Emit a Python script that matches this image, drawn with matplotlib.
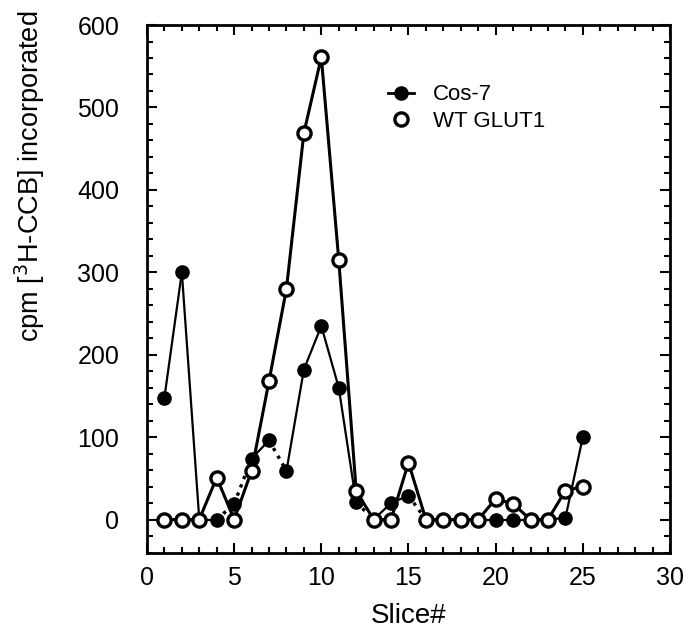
import matplotlib
matplotlib.use("Agg")
import matplotlib.pyplot as plt
from matplotlib.lines import Line2D
from matplotlib.ticker import MultipleLocator

plt.rcParams['font.family'] = ['Liberation Sans', 'DejaVu Sans']

slices = list(range(1, 26))
cos7 = [148, 300, 0, 0, 19, 74, 96, 59, 182, 235, 160, 21, 0, 20, 29,
        0, 0, 0, 0, 0, 0, 0, 0, 2, 100]
wt_glut1 = [0, 0, 0, 51, 0, 59, 168, 280, 469, 561, 315, 35, 0, 0, 69,
            0, 0, 0, 0, 25, 19, 0, 0, 35, 40]

# segments of the Cos-7 trace that appear dotted in the original (start slice)
dotted_starts = {4, 5, 7, 12, 15}

fig = plt.figure(figsize=(6.91, 6.35), dpi=100)
ax = fig.add_axes([0.2127, 0.1299, 0.9696 - 0.2127, 0.9606 - 0.1299])

# Cos-7 line segments
for i in range(len(slices) - 1):
    ls = ':' if slices[i] in dotted_starts else '-'
    lw = 2.4 if ls == ':' else 1.6
    ax.plot(slices[i:i + 2], cos7[i:i + 2], color='black', lw=lw, ls=ls,
            zorder=2)
ax.plot(slices, cos7, lw=0, marker='o', markersize=9.5,
        markerfacecolor='black', markeredgecolor='black', zorder=2.5)
ax.plot(slices, wt_glut1, color='black', lw=2.2, marker='o', markersize=9.5,
        markerfacecolor='white', markeredgecolor='black', markeredgewidth=2.4,
        zorder=3)

ax.set_xlim(0, 30)
ax.set_ylim(-40, 600)
ax.xaxis.set_major_locator(MultipleLocator(5))
ax.xaxis.set_minor_locator(MultipleLocator(1))
ax.yaxis.set_major_locator(MultipleLocator(100))
ax.yaxis.set_minor_locator(MultipleLocator(20))
ax.tick_params(which='both', direction='in', top=True, right=True, width=1.5)
ax.tick_params(which='major', length=7)
ax.tick_params(which='minor', length=4)
ax.tick_params(axis='x', which='major', labelsize=18, pad=10)
ax.tick_params(axis='y', which='major', labelsize=18, pad=20)
for s in ax.spines.values():
    s.set_linewidth(2)

ax.set_xlabel('Slice#', fontsize=20, labelpad=9)
ax.set_ylabel('cpm [$^{3}$H-CCB] incorporated', fontsize=19.5)
ax.yaxis.set_label_coords(-0.192, 0.714)

handles = [
    Line2D([], [], color='black', lw=2, marker='o', markersize=9.5,
           markerfacecolor='black'),
    Line2D([], [], color='black', lw=0, marker='o', markersize=9.5,
           markerfacecolor='white', markeredgewidth=2.4),
]
ax.legend(handles, ['Cos-7', 'WT GLUT1'], loc='upper left',
          bbox_to_anchor=(0.461, 0.8875), frameon=False, fontsize=16,
          borderpad=0, borderaxespad=0,
          handlelength=1.15, handletextpad=0.85, labelspacing=0.25)

fig.savefig('out.png', dpi=100)
